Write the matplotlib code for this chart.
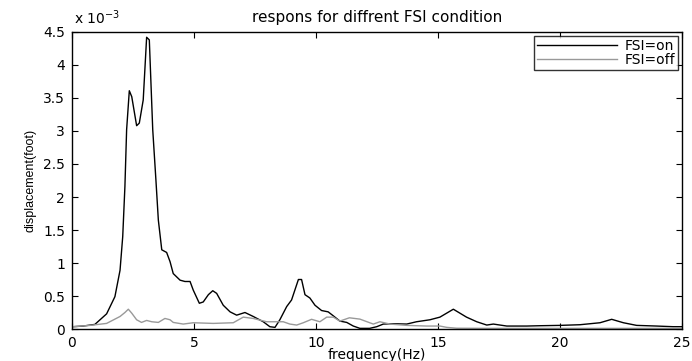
import numpy as np
import matplotlib
matplotlib.use("Agg")
import matplotlib.pyplot as plt
from matplotlib.ticker import FuncFormatter

plt.rcParams['font.family'] = ['DejaVu Sans']

# displacement values are in units of 1e-3 foot
freq_on = [0.0, 0.04, 0.46, 0.94, 1.42, 1.76, 1.97, 2.08, 2.17, 2.24, 2.35, 2.45, 2.65, 2.76,
           2.92, 3.06, 3.17, 3.31, 3.44, 3.54, 3.68, 3.88, 4.02, 4.15, 4.43, 4.63, 4.84,
           4.97, 5.22, 5.38, 5.59, 5.77, 5.93, 6.2, 6.48, 6.75, 7.09, 7.43, 7.84, 8.11,
           8.32, 8.52, 8.8, 9.0, 9.28, 9.41, 9.55, 9.75, 9.96, 10.23, 10.5, 10.71, 10.98,
           11.26, 11.53, 11.8, 12.2, 12.49, 12.76, 13.17, 13.72, 14.12, 14.67, 15.08,
           15.63, 16.17, 16.59, 17.0, 17.27, 17.82, 18.63, 19.2, 20.0, 20.82, 21.64,
           22.12, 22.6, 23.14, 23.96, 24.64, 25.0]
disp_on = [0.03, 0.035, 0.045, 0.07, 0.23, 0.49, 0.89, 1.4, 2.16, 3.02, 3.61, 3.52, 3.08, 3.12,
           3.47, 4.42, 4.38, 3.02, 2.26, 1.65, 1.2, 1.16, 1.02, 0.84, 0.74, 0.72, 0.72,
           0.59, 0.39, 0.41, 0.52, 0.58, 0.54, 0.36, 0.26, 0.21, 0.25, 0.19, 0.11, 0.035,
           0.025, 0.14, 0.34, 0.44, 0.75, 0.75, 0.52, 0.47, 0.36, 0.28, 0.26, 0.2, 0.12,
           0.1, 0.045, 0.01, 0.01, 0.035, 0.075, 0.08, 0.075, 0.11, 0.14, 0.18,
           0.3, 0.18, 0.11, 0.06, 0.075, 0.045, 0.045, 0.05, 0.055, 0.065, 0.095,
           0.147, 0.095, 0.055, 0.045, 0.035, 0.035]

freq_off = [0.0, 0.04, 0.74, 1.42, 1.97, 2.17, 2.31, 2.45, 2.65, 2.85, 3.06, 3.27, 3.54, 3.81,
            4.02, 4.15, 4.56, 4.97, 5.79, 6.61, 7.02, 7.43, 7.98, 8.66, 8.93, 9.21, 9.48,
            9.82, 10.16, 10.44, 10.71, 10.98, 11.37, 11.8, 12.35, 12.62, 13.03, 13.72,
            14.54, 15.08, 15.36, 15.77, 17.0, 20.0, 23.0, 25.0]
disp_off = [0.03, 0.035, 0.055, 0.085, 0.19, 0.25, 0.3, 0.24, 0.14, 0.1, 0.13, 0.11, 0.1, 0.16,
            0.14, 0.1, 0.075, 0.095, 0.085, 0.095, 0.18, 0.16, 0.11, 0.11, 0.075, 0.06, 0.095,
            0.147, 0.11, 0.18, 0.18, 0.12, 0.17, 0.15, 0.075, 0.11, 0.075, 0.055,
            0.045, 0.045, 0.025, 0.012, 0.01, 0.01, 0.01, 0.01]

fig = plt.figure(figsize=(6.92, 3.61), dpi=100)
ax = fig.add_axes([0.104, 0.0886, 0.8815, 0.8228])

ax.plot(freq_on, disp_on, color="black", lw=1.0, label="FSI=on")
ax.plot(freq_off, disp_off, color="#999999", lw=1.0, label="FSI=off")

ax.set_xlim(0, 25)
ax.set_ylim(0, 4.5)
ax.set_xticks(np.arange(0, 26, 5))
ax.set_yticks(np.arange(0, 4.51, 0.5))
ax.yaxis.set_major_formatter(FuncFormatter(lambda v, p: "%g" % v))
ax.tick_params(direction="in", top=True, right=True, length=4, labelsize=10, width=0.8, pad=5)
for s in ax.spines.values():
    s.set_linewidth(1.0)

ax.text(0.003, 1.018, r"x 10$^{-3}$", transform=ax.transAxes, fontsize=10, ha="left", va="bottom")
ax.set_title("respons for diffrent FSI condition", fontsize=11, pad=7)
ax.set_xlabel("frequency(Hz)", fontsize=10, labelpad=-1.5)
ax.set_ylabel("displacement(foot)", fontsize=9, family="Liberation Sans", labelpad=5)

leg = ax.legend(loc="upper right", fontsize=10, frameon=True, fancybox=False,
                edgecolor="black", borderaxespad=0.3, handlelength=5.8, handletextpad=0.5,
                borderpad=0.2, labelspacing=0.0)
leg.get_frame().set_linewidth(1.0)

fig.savefig("out.png", dpi=100)
